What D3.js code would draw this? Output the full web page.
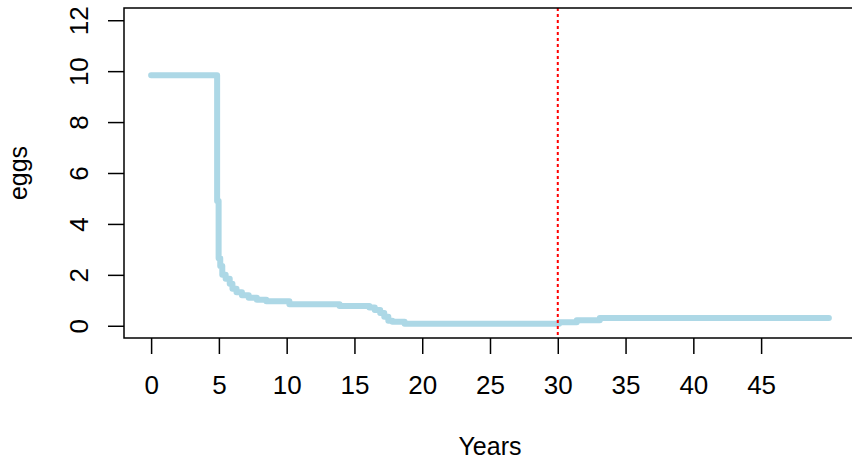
<!DOCTYPE html>
<html>
<head>
<script src="https://d3js.org/d3.v7.min.js"></script>
<style>
  body { margin: 0; background: #fff; }
  text { font-family: "Liberation Sans", Arial, sans-serif; fill: #000; }
</style>
</head>
<body>
<svg id="chart" width="852" height="461"></svg>
<script>
  // step curve
  const years = [0, 4.87, 4.98, 5.1, 5.25, 5.5, 5.8, 6.0, 6.3, 6.7, 7.2, 7.8, 8.5, 10.2, 13.9, 16.1, 16.5, 16.9, 17.2, 17.5, 17.8, 18.7, 30.1, 31.4, 33.1, 50];
  const eggs  = [9.84, 4.9, 2.65, 2.35, 2.0, 1.85, 1.65, 1.45, 1.32, 1.2, 1.1, 1.02, 0.96, 0.85, 0.78, 0.72, 0.62, 0.5, 0.35, 0.2, 0.16, 0.08, 0.14, 0.22, 0.31, 0.31];
  const xTicks = [0, 5, 10, 15, 20, 25, 30, 35, 40, 45];
  const yTicks = [0, 2, 4, 6, 8, 10, 12];
  const cutYear = 30;

  const svg = d3.select('#chart');
  const pLeft = 124, pRight = 856, pTop = 8, pBottom = 338;

  // R style 4% padding
  const x = d3.scaleLinear().domain([-2, 52]).range([pLeft, pRight]);
  const y = d3.scaleLinear().domain([-0.48, 12.48]).range([pBottom, pTop]);

  const data = years.map((d, i) => ({ yr: d, v: eggs[i] }));

  svg.append('clipPath').attr('id', 'clip')
    .append('rect').attr('x', pLeft).attr('y', pTop).attr('width', pRight - pLeft).attr('height', pBottom - pTop);

  const line = d3.line().x(d => x(d.yr)).y(d => y(d.v)).curve(d3.curveStepAfter);

  svg.append('path')
    .datum(data)
    .attr('clip-path', 'url(#clip)')
    .attr('d', line)
    .attr('fill', 'none')
    .attr('stroke', 'lightblue')
    .attr('stroke-width', 6)
    .attr('stroke-linecap', 'round')
    .attr('stroke-linejoin', 'round');

  svg.append('line')
    .attr('x1', x(cutYear)).attr('x2', x(cutYear))
    .attr('y1', pTop).attr('y2', pBottom)
    .attr('stroke', 'red')
    .attr('stroke-width', 2)
    .attr('stroke-dasharray', '3,3');

  // box
  svg.append('rect')
    .attr('x', pLeft).attr('y', pTop).attr('width', pRight - pLeft).attr('height', pBottom - pTop)
    .attr('fill', 'none').attr('stroke', '#000').attr('stroke-width', 1.5);

  const xAxis = svg.append('g')
    .attr('transform', 'translate(0,' + pBottom + ')')
    .call(d3.axisBottom(x).tickValues(xTicks).tickSize(16).tickPadding(22));
  xAxis.select('.domain').remove();
  xAxis.selectAll('line').attr('stroke', '#000').attr('stroke-width', 1.5);
  xAxis.selectAll('text').attr('font-size', 26).attr('font-family', '"Liberation Sans", Arial, sans-serif');

  const yAxis = svg.append('g')
    .attr('transform', 'translate(' + pLeft + ',0)')
    .call(d3.axisLeft(y).tickValues(yTicks).tickSize(16));
  yAxis.select('.domain').remove();
  yAxis.selectAll('line').attr('stroke', '#000').attr('stroke-width', 1.5);
  yAxis.selectAll('text')
    .attr('font-size', 26)
    .attr('font-family', '"Liberation Sans", Arial, sans-serif')
    .attr('text-anchor', 'middle')
    .attr('dy', 0)
    .attr('x', 0).attr('y', 0)
    .attr('transform', 'translate(-36,0) rotate(-90)');

  svg.append('text')
    .attr('x', (pLeft + pRight) / 2).attr('y', 455)
    .attr('text-anchor', 'middle').attr('font-size', 25)
    .text('Years');

  svg.append('text')
    .attr('transform', 'translate(27,' + (pTop + pBottom) / 2 + ') rotate(-90)')
    .attr('text-anchor', 'middle').attr('font-size', 25)
    .text('eggs');
</script>
</body>
</html>
